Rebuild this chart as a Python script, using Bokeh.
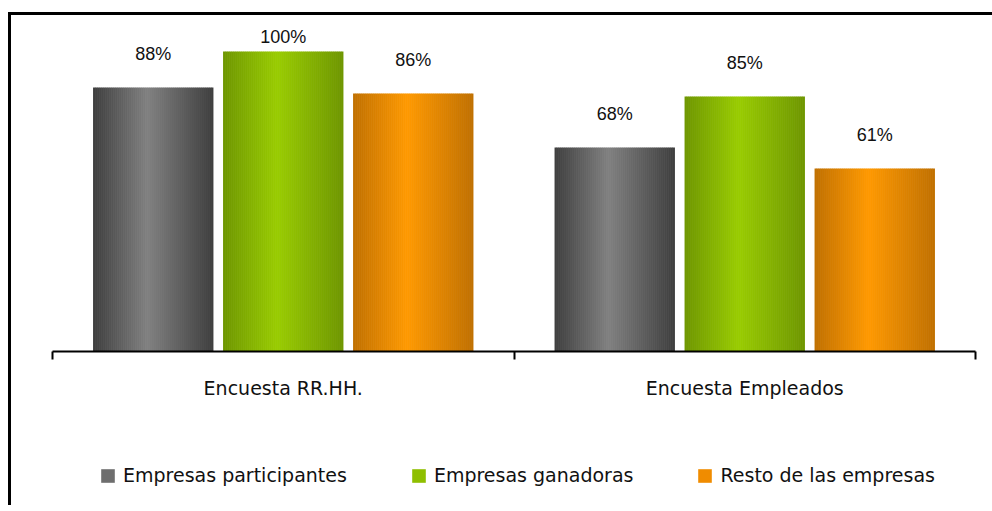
import numpy as np
from bokeh.plotting import figure
from bokeh.layouts import column
from bokeh.models import Range1d, FixedTicker, Legend, LegendItem, ColumnDataSource
from bokeh.core.properties import value
from bokeh.embed import file_html
from bokeh.resources import INLINE

# ---- data ----
categories = ["Encuesta RR.HH.", "Encuesta Empleados"]
series_names = ["Empresas participantes", "Empresas ganadoras", "Resto de las empresas"]
participantes = [88, 68]
ganadoras = [100, 85]
resto = [86, 61]
pct_labels_participantes = ["88%", "68%"]
pct_labels_ganadoras = ["100%", "85%"]
pct_labels_resto = ["86%", "61%"]

series_values = [participantes, ganadoras, resto]
series_labels = [pct_labels_participantes, pct_labels_ganadoras, pct_labels_resto]

# ---- style ----
edge_cols = [(62, 62, 62), (110, 150, 0), (192, 112, 0)]
peak_cols = [(128, 128, 128), (153, 204, 0), (255, 153, 0)]
legend_cols = ["#6e6e6e", "#8fbf00", "#f08c00"]
PEAK_T = 0.45
N_STRIPS = 60
BAR_W = 0.26
GROUP_STEP = 0.2817
LABEL_GAP = 11
LABEL_CAP = 104.7

W = 981
p = figure(width=W, height=390, output_backend="svg", toolbar_location=None,
           x_range=Range1d(0, 2), y_range=Range1d(0, 110.33),
           min_border_left=41, min_border_right=W - 964, min_border_top=5,
           min_border_bottom=54)
p.outline_line_color = None
p.xgrid.visible = False
p.ygrid.visible = False
p.yaxis.visible = False
p.background_fill_color = "white"
p.border_fill_color = "white"

centers = np.arange(len(categories)) + 0.5


def strip_color(rgb_e, rgb_p, t):
    if t <= PEAK_T:
        f = t / PEAK_T
    else:
        f = (1 - t) / (1 - PEAK_T)
    c = [int(round(e + (pk - e) * f)) for e, pk in zip(rgb_e, rgb_p)]
    return "#%02x%02x%02x" % tuple(c)


sw = BAR_W / N_STRIPS
for si, (vals, labs) in enumerate(zip(series_values, series_labels)):
    off = (si - 1) * GROUP_STEP
    for k in range(N_STRIPS):
        t = (k + 0.5) / N_STRIPS
        xs = centers + off - BAR_W / 2 + (k + 0.5) * sw
        src = ColumnDataSource(dict(x=xs, top=vals))
        p.vbar(x="x", top="top", width=sw * 1.2, bottom=0, source=src,
               fill_color=strip_color(edge_cols[si], peak_cols[si], t),
               line_color=None)
    ly = np.minimum(np.array(vals) + LABEL_GAP, LABEL_CAP)
    lsrc = ColumnDataSource(dict(x=centers + off, y=ly, t=labs))
    p.text(x="x", y="y", text="t", source=lsrc, text_align="center",
           text_baseline="middle", text_font=value("Liberation Sans"),
           text_font_size="18px", text_color="#111111")

xa = p.xaxis[0]
xa.ticker = FixedTicker(ticks=list(centers), minor_ticks=list(range(len(categories) + 1)))
xa.major_label_overrides = {float(c): cat for c, cat in zip(centers, categories)}
xa.axis_line_color = "black"
xa.axis_line_width = 2
xa.major_tick_out = 0
xa.major_tick_in = 0
xa.minor_tick_out = 8
xa.minor_tick_in = 0
xa.minor_tick_line_color = "black"
xa.minor_tick_line_width = 2
xa.major_label_standoff = 17
xa.major_label_text_font = "DejaVu Sans"
xa.major_label_text_font_size = "19px"
xa.major_label_text_color = "#111111"

# ---- legend strip (key swatches only; their single point lies outside the view) ----
pl = figure(width=W, height=100, output_backend="svg", toolbar_location=None,
            x_range=Range1d(0, 1), y_range=Range1d(0, 1),
            x_axis_location=None, y_axis_location=None,
            min_border_left=0, min_border_right=0, min_border_top=0,
            min_border_bottom=0)
pl.outline_line_color = None
pl.xgrid.visible = False
pl.ygrid.visible = False
pl.border_fill_color = "white"

items = []
for name, col in zip(series_names, legend_cols):
    r = pl.vbar(x=[-5], top=[-5], bottom=[-6], width=0.1, fill_color=col,
                line_color=None)
    items.append(LegendItem(label=name, renderers=[r]))

legend = Legend(items=items, orientation="horizontal", location=(47, 19),
                glyph_width=17, glyph_height=17, label_standoff=7, spacing=63,
                label_text_font="DejaVu Sans", label_text_font_size="19px",
                label_text_color="#111111", border_line_color=None,
                background_fill_alpha=0, padding=0, margin=0)
pl.add_layout(legend, "center")

layout = column(p, pl, spacing=0,
                styles={"border-top": "3px solid black",
                        "border-left": "3px solid black",
                        "margin-top": "12px", "margin-left": "8px"})

open("out.html", "w").write(file_html(layout, INLINE))
